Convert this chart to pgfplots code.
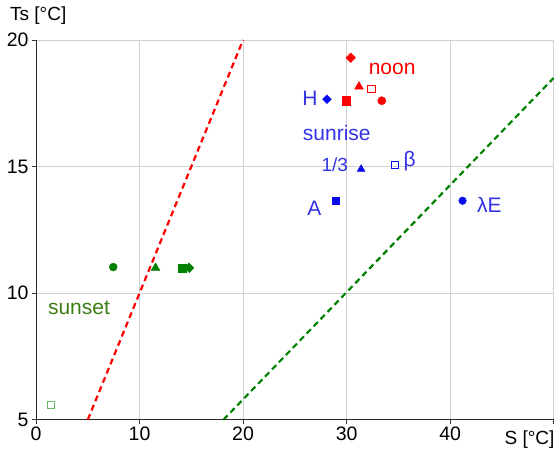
\documentclass[border=0pt]{standalone}
\usepackage{fontspec}
\setmainfont{Liberation Sans}
\usepackage{pgfplots}
\pgfplotsset{compat=1.18}
\definecolor{myred}{RGB}{255,0,0}
\definecolor{myblue}{RGB}{10,10,240}
\definecolor{txtblue}{RGB}{50,50,230}
\definecolor{mygreen}{RGB}{0,128,0}
\definecolor{sunsetgreen}{RGB}{60,125,20}
\definecolor{lightgreen}{RGB}{100,185,100}
\begin{document}
\begin{tikzpicture}
\begin{axis}[
  scale only axis, width=518pt, height=380pt,
  xmin=0, xmax=50, ymin=5, ymax=20,
  axis x line=bottom, axis y line=left,
  axis line style={-, black!85, line width=0.8pt},
  xtick={0,10,20,30,40,50}, xticklabels={0,10,20,30,40,{}},
  ytick={5,10,15,20},
  tick align=outside, major tick length=4pt,
  tick style={black!80, line width=0.6pt},
  grid=major, grid style={black!18, line width=0.8pt},
  /pgf/number format/assume math mode=true,
  ticklabel style={font=\fontsize{19.5}{21}\selectfont},
  clip=false,
]
\addplot[myred, line width=2.2pt, dash pattern=on 6pt off 4pt] coordinates {(5,5) (20,20)};
\addplot[mygreen, line width=2.2pt, dash pattern=on 6pt off 4pt] coordinates {(18.1,5) (50,18.5)};
% red (noon)
\addplot[only marks, mark=square*, mark size=3.4pt, mark options={rotate=45}, myred] coordinates {(30.4,19.3)};
\addplot[only marks, mark=triangle*, mark size=5pt, myred] coordinates {(31.2,18.16)};
\addplot[only marks, mark=square, mark size=3.6pt, mark options={draw=myred, fill=white, line width=1pt}] coordinates {(32.4,18.05)};
\addplot[only marks, mark=square*, mark size=4.1pt, myred] coordinates {(30.0,17.6)};
\addplot[only marks, mark=*, mark size=4.1pt, myred] coordinates {(33.4,17.6)};
% blue (sunrise)
\addplot[only marks, mark=square*, mark size=3.1pt, mark options={rotate=45}, myblue] coordinates {(28.1,17.66)};
\addplot[only marks, mark=triangle*, mark size=4.5pt, myblue] coordinates {(31.4,14.9)};
\addplot[only marks, mark=square, mark size=3.3pt, mark options={draw=myblue, fill=white, line width=1pt}] coordinates {(34.65,15.07)};
\addplot[only marks, mark=square*, mark size=3.5pt, myblue] coordinates {(28.9,13.65)};
\addplot[only marks, mark=*, mark size=3.8pt, myblue] coordinates {(41.2,13.65)};
% green (sunset)
\addplot[only marks, mark=*, mark size=4pt, mygreen] coordinates {(7.46,11.03)};
\addplot[only marks, mark=triangle*, mark size=5pt, mygreen] coordinates {(11.55,11.0)};
\addplot[only marks, mark=square*, mark size=4pt, mygreen] coordinates {(14.1,11.0)};
\addplot[only marks, mark=square*, mark size=3.4pt, mark options={rotate=45}, mygreen] coordinates {(14.8,11.0)};
\addplot[only marks, mark=square, mark size=3.5pt, mark options={draw=lightgreen, fill=white, line width=1pt}] coordinates {(1.45,5.6)};
% annotations
\node[myred, font=\fontsize{21}{23}\selectfont] at (axis cs:34.4,18.85) {noon};
\node[txtblue, font=\fontsize{21}{23}\selectfont] at (axis cs:26.45,17.71) {H};
\node[txtblue, font=\fontsize{21}{23}\selectfont] at (axis cs:29.05,16.33) {sunrise};
\node[txtblue, font=\fontsize{19}{21}\selectfont] at (axis cs:28.86,15.07) {1/3};
\node[txtblue, font=\fontsize{21}{23}\selectfont] at (axis cs:36.1,15.2) {β};
\node[txtblue, font=\fontsize{21}{23}\selectfont] at (axis cs:26.9,13.37) {A};
\node[txtblue, font=\fontsize{21}{23}\selectfont] at (axis cs:43.8,13.5) {λE};
\node[sunsetgreen, font=\fontsize{21}{23}\selectfont] at (axis cs:4.15,9.42) {sunset};
\node[anchor=base west, font=\fontsize{19}{21}\selectfont, inner sep=0pt] at ([shift={(-26pt,19pt)}]rel axis cs:0,1) {Ts [°C]};
\node[anchor=base east, font=\fontsize{19}{21}\selectfont, inner sep=0pt] at ([shift={(1pt,-25pt)}]rel axis cs:1,0) {S [°C]};
\end{axis}
\path ([shift={(-36pt,-31pt)}]current axis.south west) rectangle ([shift={(3pt,40pt)}]current axis.north east);
\end{tikzpicture}
\end{document}
